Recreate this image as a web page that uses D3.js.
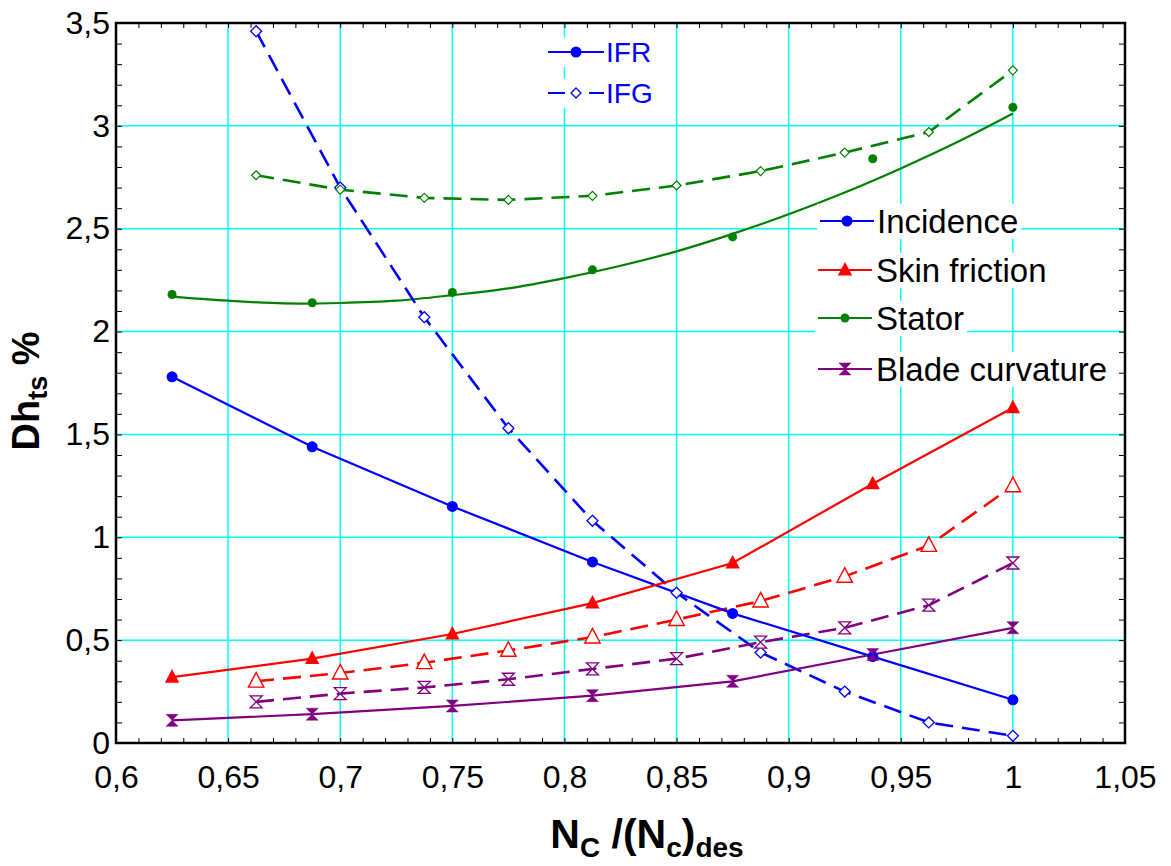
<!DOCTYPE html>
<html><head><meta charset="utf-8">
<script src="https://cdn.jsdelivr.net/npm/d3@7"></script>
<style>
html,body{margin:0;padding:0;background:#fff;}
svg{display:block;font-family:Arial,"Liberation Sans",sans-serif;}
</style></head>
<body><svg id="chart" width="1171" height="866"></svg>
<script>
// ---- data ----
const xIFR = [0.625, 0.6875, 0.75, 0.8125, 0.875, 0.9375, 1.0];
const xIFG = [0.6625, 0.7, 0.7375, 0.775, 0.8125, 0.85, 0.8875, 0.925, 0.9625, 1.0];

const incidenceIFR = [1.78, 1.44, 1.15, 0.88, 0.63, 0.42, 0.21];
const skinIFR      = [0.32, 0.41, 0.53, 0.68, 0.875, 1.26, 1.63];
const statorIFR    = [2.18, 2.14, 2.19, 2.30, 2.46, 2.84, 3.09];
const bladeIFR     = [0.11, 0.14, 0.18, 0.23, 0.30, 0.43, 0.56];

const incidenceIFG = [3.46, 2.70, 2.07, 1.53, 1.08, 0.73, 0.44, 0.25, 0.10, 0.035];
const skinIFG      = [0.30, 0.34, 0.39, 0.45, 0.515, 0.60, 0.69, 0.81, 0.96, 1.25];
const statorIFG    = [2.76, 2.69, 2.65, 2.64, 2.66, 2.71, 2.78, 2.87, 2.97, 3.27];
const bladeIFG     = [0.20, 0.24, 0.27, 0.31, 0.36, 0.41, 0.49, 0.56, 0.67, 0.875];

// smooth trend curve drawn through the IFR stator points
const statorFitX = [0.625, 0.65, 0.675, 0.7, 0.725, 0.75, 0.775, 0.8, 0.825, 0.85, 0.875, 0.9, 0.925, 0.95, 0.975, 1.0];
const statorFitY = [2.17, 2.15, 2.137, 2.139, 2.15, 2.177, 2.21, 2.26, 2.32, 2.39, 2.475, 2.57, 2.676, 2.793, 2.92, 3.06];

const xTickValues = [0.6, 0.65, 0.7, 0.75, 0.8, 0.85, 0.9, 0.95, 1.0, 1.05];
const yTickValues = [0, 0.5, 1, 1.5, 2, 2.5, 3, 3.5];
const legendTopLabels = ["IFR", "IFG"];
const legendRightLabels = ["Incidence", "Skin friction", "Stator", "Blade curvature"];

// ---- layout ----
const L = 116, R = 1125, T = 23, B = 743;
const svg = d3.select("#chart");
const x = d3.scaleLinear().domain([0.6, 1.05]).range([L, R]);
const y = d3.scaleLinear().domain([0, 3.5]).range([B, T]);
const fmt = d3.formatLocale({decimal: ",", thousands: ".", grouping: [3], currency: ["", ""]}).format(".2~f");

const COL = {blue: "#0000ff", red: "#ff0000", green: "#008000", purple: "#800080", grid: "#00ffff"};

// gridlines
const grid = svg.append("g");
grid.selectAll("line.v").data(xTickValues.slice(1, -1)).join("line")
  .attr("x1", d => x(d)).attr("x2", d => x(d)).attr("y1", T).attr("y2", B)
  .attr("stroke", COL.grid).attr("stroke-width", 1.5);
grid.selectAll("line.h").data(yTickValues.slice(1, -1)).join("line")
  .attr("y1", d => y(d)).attr("y2", d => y(d)).attr("x1", L).attr("x2", R)
  .attr("stroke", COL.grid).attr("stroke-width", 1.5);

// minor ticks (inward) on all sides
const xMinor = d3.range(0, 46).map(i => 0.6 + i * 0.01);
const yMinor = d3.range(0, 36).map(i => i * 0.1);
function axisTicks(axisFn, scale, vals, size, transform) {
  svg.append("g").attr("transform", transform)
    .call(axisFn(scale).tickValues(vals).tickSize(size).tickFormat(""))
    .call(g => g.select(".domain").remove())
    .call(g => g.selectAll("line").attr("stroke", "#000").attr("stroke-width", 1));
}
axisTicks(d3.axisTop, x, xMinor, 5, `translate(0,${B})`);
axisTicks(d3.axisBottom, x, xMinor, 5, `translate(0,${T})`);
axisTicks(d3.axisRight, y, yMinor, 6, `translate(${L},0)`);
axisTicks(d3.axisLeft, y, yMinor, 6, `translate(${R},0)`);

// tick labels
svg.append("g").attr("transform", `translate(0,${B})`)
  .call(d3.axisBottom(x).tickValues(xTickValues).tickSize(0).tickPadding(22).tickFormat(fmt))
  .call(g => g.select(".domain").remove())
  .call(g => g.selectAll("text").attr("font-size", 32).attr("fill", "#000")
    .attr("font-family", "Arial, 'Liberation Sans', sans-serif"));
svg.append("g").attr("transform", `translate(${L},0)`)
  .call(d3.axisLeft(y).tickValues(yTickValues).tickSize(0).tickPadding(6).tickFormat(fmt))
  .call(g => g.select(".domain").remove())
  .call(g => g.selectAll("text").attr("font-size", 32).attr("fill", "#000")
    .attr("font-family", "Arial, 'Liberation Sans', sans-serif"));

// ---- marker shapes ----
const sym = {
  circle: r => d3.symbol().type(d3.symbolCircle).size(Math.PI * r * r)(),
  triangle: s => `M0,${-s*0.62}L${s*0.55},${s*0.42}L${-s*0.55},${s*0.42}Z`,
  diamond: s => `M0,${-s}L${s},0L0,${s}L${-s},0Z`,
  hourglass: s => `M${-s},${-s}L${s},${-s}L0,0L${s},${s}L${-s},${s}L0,0Z`
};

const series = [
  {xs: xIFG, ys: incidenceIFG, color: COL.blue, dash: "18,9", marker: sym.diamond(5.5), fill: "#fff", sw: 1.3},
  {xs: xIFG, ys: statorIFG, color: COL.green, dash: "18,9", marker: sym.diamond(4.5), fill: "#fff", sw: 1.2},
  {xs: xIFG, ys: skinIFG, color: COL.red, dash: "18,9", marker: sym.triangle(14), fill: "#fff", sw: 1.4},
  {xs: xIFG, ys: bladeIFG, color: COL.purple, dash: "18,9", marker: sym.hourglass(6), fill: "#fff", sw: 1.3},
  {xs: xIFR, ys: incidenceIFR, color: COL.blue, dash: null, marker: sym.circle(5.5), fill: COL.blue, sw: 0},
  {xs: xIFR, ys: skinIFR, color: COL.red, dash: null, marker: sym.triangle(13), fill: COL.red, sw: 0},
  {xs: xIFR, ys: bladeIFR, color: COL.purple, dash: null, marker: sym.hourglass(6), fill: COL.purple, sw: 0.5},
  {xs: xIFR, ys: statorIFR, color: COL.green, dash: null, marker: sym.circle(4.5), fill: COL.green, sw: 0, noLine: true}
];

const line = d3.line().x(d => x(d[0])).y(d => y(d[1]));

// stator smooth trend
svg.append("path")
  .attr("d", d3.line().curve(d3.curveCatmullRom).x(d => x(d[0])).y(d => y(d[1]))(d3.zip(statorFitX, statorFitY)))
  .attr("fill", "none").attr("stroke", COL.green).attr("stroke-width", 2.2);

series.forEach(s => {
  const pts = d3.zip(s.xs, s.ys);
  if (!s.noLine) {
    svg.append("path").attr("d", line(pts)).attr("fill", "none")
      .attr("stroke", s.color).attr("stroke-width", s.dash ? 2.6 : 2.2)
      .attr("stroke-dasharray", s.dash);
  }
});
series.forEach(s => {
  const pts = d3.zip(s.xs, s.ys);
  svg.append("g").selectAll("path").data(pts).join("path")
    .attr("transform", d => `translate(${x(d[0])},${y(d[1])})`)
    .attr("d", s.marker).attr("fill", s.fill)
    .attr("stroke", s.color).attr("stroke-width", s.sw || 0);
});

// frame
svg.append("rect").attr("x", L).attr("y", T).attr("width", R - L).attr("height", B - T)
  .attr("fill", "none").attr("stroke", "#000").attr("stroke-width", 2.5);

// ---- legends ----
function legendRow(cx0, cx1, cy, label, color, dash, marker, fill, sw, fs, textColor, tx) {
  const g = svg.append("g");
  const bg = g.append("rect").attr("fill", "#fff");
  g.append("line").attr("x1", cx0).attr("x2", cx1).attr("y1", cy).attr("y2", cy)
    .attr("stroke", color).attr("stroke-width", 2.2).attr("stroke-dasharray", dash);
  g.append("path").attr("transform", `translate(${(cx0 + cx1) / 2},${cy})`)
    .attr("d", marker).attr("fill", fill).attr("stroke", color).attr("stroke-width", sw);
  const t = g.append("text").attr("x", tx).attr("y", cy + fs * 0.36).attr("font-size", fs)
    .attr("fill", textColor).text(label);
  const w = t.node().getComputedTextLength();
  bg.attr("x", cx0 - 3).attr("y", cy - fs * 0.52).attr("width", tx + w + 3 - (cx0 - 3)).attr("height", fs * 1.06);
}
legendRow(548, 604, 52, legendTopLabels[0], COL.blue, null, sym.circle(5.5), COL.blue, 0, 28, COL.blue, 606);
legendRow(548, 604, 93, legendTopLabels[1], COL.blue, "17,24", sym.diamond(5), "#fff", 1.3, 28, COL.blue, 606);

legendRow(820, 874, 221, legendRightLabels[0], COL.blue, null, sym.circle(5.5), COL.blue, 0, 33, "#000", 877);
legendRow(818, 872, 270, legendRightLabels[1], COL.red, null, sym.triangle(13), COL.red, 0, 33, "#000", 876);
legendRow(818, 872, 318, legendRightLabels[2], COL.green, null, sym.circle(4.5), COL.green, 0, 33, "#000", 876);
legendRow(818, 872, 369, legendRightLabels[3], COL.purple, null, sym.hourglass(6), COL.purple, 0.5, 33, "#000", 876);

// ---- axis titles ----
const xt = svg.append("text").attr("x", 647).attr("y", 848).attr("text-anchor", "middle")
  .attr("font-size", 41).attr("font-weight", "bold").attr("fill", "#000");
xt.append("tspan").text("N");
xt.append("tspan").attr("font-size", 28).attr("dy", 9).text("C");
xt.append("tspan").attr("dy", -9).text(" /(N");
xt.append("tspan").attr("font-size", 28).attr("dy", 9).text("c");
xt.append("tspan").attr("dy", -9).text(")");
xt.append("tspan").attr("font-size", 28).attr("dy", 9).text("des");

const yt = svg.append("text").attr("transform", "translate(39,391) rotate(-90)").attr("text-anchor", "middle")
  .attr("font-size", 38).attr("font-weight", "bold").attr("fill", "#000");
yt.append("tspan").text("Dh");
yt.append("tspan").attr("font-size", 27).attr("dy", 8).text("ts");
yt.append("tspan").attr("dy", -8).text(" %");
</script></body></html>
